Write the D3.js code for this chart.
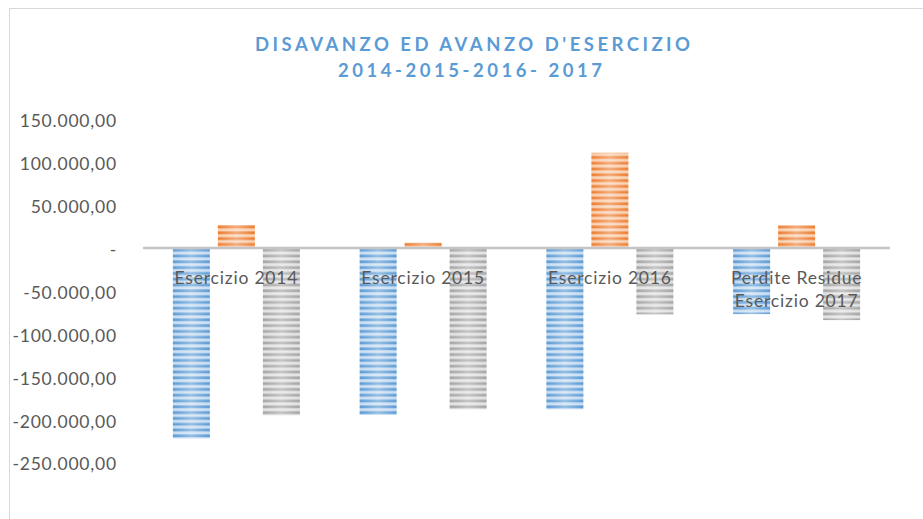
<!DOCTYPE html>
<html>
<head>
<meta charset="utf-8">
<script src="https://cdn.jsdelivr.net/npm/d3@7"></script>
<style>
  html, body { margin: 0; padding: 0; background: #ffffff; }
  svg { display: block; }
</style>
</head>
<body>
<svg id="chart" width="923" height="519"></svg>
<script>
// ---- data ----
const categories = ["Esercizio 2014", "Esercizio 2015", "Esercizio 2016", "Perdite Residue Esercizio 2017"];
const seriesNames = ["Disavanzo iniziale", "Avanzo", "Disavanzo finale"];
const disavanzoIniziale = [-222000, -194500, -188000, -77000];
const avanzo = [26800, 6200, 111000, 26500];
const disavanzoFinale = [-195000, -188000, -77300, -84000];
const yTicks = [150000, 100000, 50000, 0, -50000, -100000, -150000, -200000, -250000];
const titleLines = ["DISAVANZO ED AVANZO D'ESERCIZIO", "2014-2015-2016- 2017"];

const seriesValues = [disavanzoIniziale, avanzo, disavanzoFinale];
const seriesColors = [
  { dark: "#5b9bd5", light: "#c9def2" },
  { dark: "#ed7d31", light: "#f9cfae" },
  { dark: "#a5a5a5", light: "#e2e2e2" }
];

const svg = d3.select("#chart");
const W = 923, H = 519;
const FONT = "Lato, 'Open Sans', sans-serif";

// outer chart border
svg.append("rect").attr("x", 9.5).attr("y", 8.5).attr("width", W + 20).attr("height", H + 20)
  .attr("fill", "#ffffff").attr("stroke", "#d9d9d9").attr("stroke-width", 1);

// ---- scales ----
const plotLeft = 143, plotRight = 890;
const y = d3.scaleLinear().domain([-250000, 150000]).range([462.5, 119.3]);
const x0 = d3.scaleBand().domain(categories).range([plotLeft, plotRight]).paddingInner(0).paddingOuter(0);
const x1 = d3.scaleBand().domain(seriesNames).range([0, x0.bandwidth()]).paddingInner(0.178).paddingOuter(0.664);

// ---- patterns / gradients ----
const defs = svg.append("defs");
seriesColors.forEach((c, i) => {
  const p = defs.append("pattern").attr("id", "stripe" + i)
    .attr("patternUnits", "userSpaceOnUse").attr("width", 10).attr("height", 5.8);
  p.append("rect").attr("width", 10).attr("height", 5.8).attr("fill", c.dark);
  p.append("rect").attr("y", 2.2).attr("width", 10).attr("height", 3).attr("fill", c.light);
});
const g = defs.append("linearGradient").attr("id", "shine").attr("x1", "0").attr("x2", "1").attr("y1", "0").attr("y2", "0");
g.append("stop").attr("offset", "0").attr("stop-color", "#ffffff").attr("stop-opacity", 0.0);
g.append("stop").attr("offset", "0.5").attr("stop-color", "#ffffff").attr("stop-opacity", 0.35);
g.append("stop").attr("offset", "1").attr("stop-color", "#ffffff").attr("stop-opacity", 0.0);

// ---- title ----
const title = svg.append("g");
title.append("text").attr("x", 472.5).attr("y", 51).attr("text-anchor", "middle")
  .attr("font-family", FONT).attr("font-weight", "bold").attr("font-size", 18.5)
  .attr("fill", "#5b9bd5").attr("textLength", 435).attr("lengthAdjust", "spacing")
  .text(titleLines[0]);
title.append("text").attr("x", 470).attr("y", 77).attr("text-anchor", "middle")
  .attr("font-family", FONT).attr("font-weight", "bold").attr("font-size", 18.5)
  .attr("fill", "#5b9bd5").attr("textLength", 264).attr("lengthAdjust", "spacing")
  .text(titleLines[1]);

// ---- y axis labels ----
const itLocale = d3.formatLocale({ decimal: ",", thousands: ".", grouping: [3], currency: ["€", ""], minus: "-" });
const fmt = itLocale.format(",.2f");
const yAxis = d3.axisLeft(y).tickValues(yTicks).tickSize(0).tickPadding(0)
  .tickFormat(d => d === 0 ? "-" : fmt(d));
const yg = svg.append("g").attr("transform", "translate(117,0)").call(yAxis);
yg.select(".domain").remove();
yg.selectAll("text").attr("font-family", FONT).attr("font-size", 17.5).attr("fill", "#595959")
  .attr("dy", "7.4px").attr("x", 0).attr("letter-spacing", "0.8px");

// ---- bars ----
const groups = svg.append("g").selectAll("g").data(categories).join("g")
  .attr("transform", d => `translate(${x0(d)},0)`);
seriesNames.forEach((s, si) => {
  groups.append("rect")
    .attr("x", x1(s)).attr("width", x1.bandwidth())
    .attr("y", (d, ci) => y(Math.max(0, seriesValues[si][ci])))
    .attr("height", (d, ci) => Math.abs(y(seriesValues[si][ci]) - y(0)))
    .attr("fill", `url(#stripe${si})`);
  groups.append("rect")
    .attr("x", x1(s)).attr("width", x1.bandwidth())
    .attr("y", (d, ci) => y(Math.max(0, seriesValues[si][ci])))
    .attr("height", (d, ci) => Math.abs(y(seriesValues[si][ci]) - y(0)))
    .attr("fill", "url(#shine)");
});

// ---- zero axis line ----
svg.append("line").attr("x1", plotLeft).attr("x2", plotRight).attr("y1", y(0)).attr("y2", y(0))
  .attr("stroke", "#c4c4c4").attr("stroke-width", 2.6);

// ---- category labels (wrapped) ----
const xAxis = d3.axisBottom(x0).tickSize(0).tickPadding(0);
const xg = svg.append("g").attr("transform", `translate(0,${y(0)})`).call(xAxis);
xg.select(".domain").remove();
xg.selectAll("text").attr("font-family", FONT).attr("font-size", 17.5).attr("fill", "#595959")
  .attr("letter-spacing", "0.8px")
  .each(function (d) {
    const t = d3.select(this);
    const words = d.split(" ");
    t.text(null).attr("y", 0).attr("dy", null);
    const maxW = x0.bandwidth() * 0.85;
    let line = [], lineNo = 0;
    let ts = t.append("tspan").attr("x", 0).attr("y", 35.5);
    words.forEach(w => {
      line.push(w);
      ts.text(line.join(" "));
      if (ts.node().getComputedTextLength() > maxW && line.length > 1) {
        line.pop();
        ts.text(line.join(" "));
        line = [w];
        lineNo++;
        ts = t.append("tspan").attr("x", 0).attr("y", 35.5 + lineNo * 23).text(w);
      }
    });
  });
</script>
</body>
</html>
